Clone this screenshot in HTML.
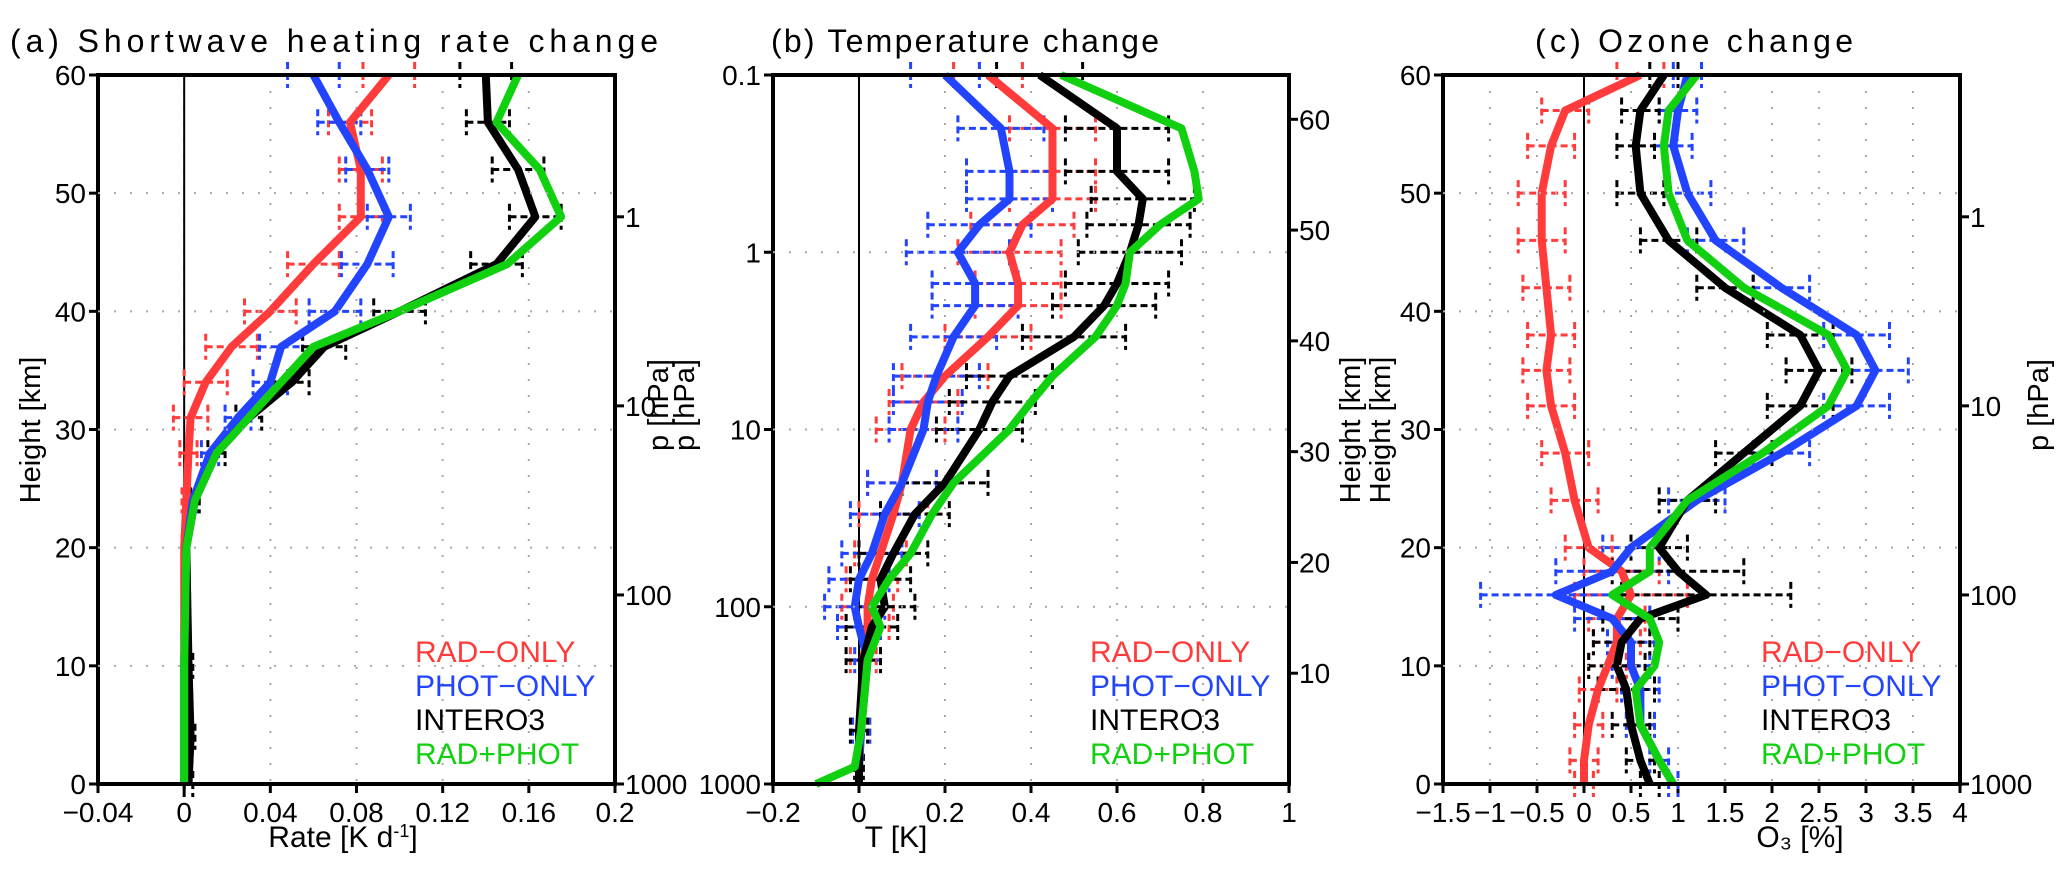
<!DOCTYPE html>
<html><head><meta charset="utf-8"><style>
body{margin:0;background:#fff;}
svg{display:block;font-family:"Liberation Sans",sans-serif;}
</style></head><body>
<svg id="fig" width="2067" height="889" viewBox="0 0 2067 889" xmlns="http://www.w3.org/2000/svg"></svg>
<script>
// ---------- Panel (a) data: height [km] vs shortwave heating rate [K/d]
const aLevels=[60,56,52,48,44,40,37,34,31,28,24,20,10,4,0];
const aRed  =[0.095,0.077,0.082,0.082,0.060,0.040,0.022,0.010,0.003,0.002,0.001,0,0,0,0];
const aBlue =[0.060,0.072,0.085,0.095,0.085,0.070,0.045,0.040,0.025,0.012,0.004,0.001,0,0,0];
const aBlack=[0.140,0.141,0.155,0.163,0.145,0.100,0.065,0.050,0.030,0.015,0.005,0.001,0.002,0.003,0.002];
const aGreen=[0.155,0.145,0.165,0.175,0.150,0.100,0.060,0.045,0.030,0.015,0.005,0.001,0,0,0];
const aErrRed  =[0.012,0.010,0.010,0.010,0.012,0.012,0.012,0.010,0.008,0.004,0.002,0.001,0,0,0];
const aErrBlue =[0.012,0.010,0.010,0.010,0.012,0.012,0.010,0.008,0.006,0.004,0.002,0.001,0,0,0];
const aErrBlack=[0.012,0.010,0.012,0.012,0.012,0.012,0.010,0.008,0.006,0.004,0.002,0.001,0.002,0.002,0.002];
const aXTicks=[-0.04,0,0.04,0.08,0.12,0.16,0.2];
const aXLabels=["\u22120.04","0","0.04","0.08","0.12","0.16","0.2"];
const kmTicks=[0,10,20,30,40,50,60];
const hpaTicks=[1,10,100,1000];

// ---------- Panel (b) data: pressure [hPa] vs temperature change [K]
const bLevels=[0.1,0.2,0.35,0.5,0.7,1,1.5,2,3,5,7,10,20,30,50,70,100,130,200,500,800,1000];
const bRed  =[0.30,0.45,0.45,0.45,0.38,0.35,0.37,0.37,0.30,0.20,0.15,0.12,0.10,0.08,0.05,0.03,0.02,0.02,0.01,0.005,0,0];
const bBlue =[0.20,0.33,0.35,0.35,0.28,0.23,0.27,0.27,0.22,0.18,0.16,0.15,0.10,0.06,0.03,0.0,-0.01,0.0,0.02,0.005,0,0];
const bBlack=[0.42,0.60,0.60,0.66,0.65,0.63,0.60,0.57,0.50,0.35,0.31,0.28,0.20,0.13,0.08,0.05,0.06,0.03,0.01,0.0,0.0,0.0];
const bGreen=[0.47,0.75,0.78,0.79,0.70,0.63,0.62,0.60,0.55,0.45,0.40,0.35,0.22,0.17,0.12,0.07,0.03,0.05,0.02,0.005,-0.01,-0.10];
const bErrRed  =[0.08,0.10,0.10,0.10,0.12,0.12,0.10,0.10,0.10,0.10,0.08,0.08,0.08,0.08,0.06,0.06,0.06,0.05,0.03,0.02,0.01,0.0];
const bErrBlue =[0.08,0.10,0.10,0.10,0.12,0.12,0.10,0.10,0.10,0.10,0.08,0.08,0.08,0.08,0.07,0.07,0.07,0.05,0.03,0.02,0.01,0.0];
const bErrBlack=[0.10,0.12,0.12,0.12,0.12,0.12,0.12,0.12,0.12,0.10,0.10,0.10,0.10,0.08,0.08,0.07,0.07,0.06,0.04,0.02,0.01,0.0];
const bXTicks=[-0.2,0,0.2,0.4,0.6,0.8,1];
const bXLabels=["\u22120.2","0","0.2","0.4","0.6","0.8","1"];
const bPTicks=[0.1,1,10,100,1000];
const bPLabels=["0.1","1","10","100","1000"];
const bKmTicks=[10,20,30,40,50,60];

// ---------- Panel (c) data: height [km] vs ozone change [%]
const cLevels=[60,57,54,50,46,42,38,35,32,28,24,20,18,16,14,12,10,8,5,2,0];
const cRed  =[0.60,-0.20,-0.35,-0.45,-0.45,-0.40,-0.35,-0.40,-0.35,-0.20,-0.10,0.05,0.40,0.50,0.35,0.35,0.25,0.15,0.05,0.0,0.0];
const cBlue =[1.10,1.00,0.95,1.10,1.40,2.10,2.90,3.10,2.90,2.10,1.20,0.50,0.30,-0.30,0.30,0.50,0.50,0.60,0.60,0.80,0.95];
const cBlack=[0.85,0.60,0.55,0.60,0.90,1.50,2.30,2.50,2.30,1.70,1.10,0.80,1.00,1.30,0.60,0.40,0.35,0.45,0.50,0.60,0.70];
const cGreen=[1.20,0.90,0.85,0.90,1.10,1.70,2.60,2.80,2.60,1.90,1.10,0.70,0.70,0.30,0.70,0.80,0.75,0.55,0.60,0.80,0.95];
const cErrRed  =[0.25,0.25,0.25,0.25,0.25,0.25,0.25,0.25,0.25,0.25,0.25,0.25,0.4,0.6,0.3,0.25,0.2,0.2,0.15,0.15,0.1];
const cErrBlue =[0.15,0.2,0.2,0.25,0.3,0.3,0.35,0.35,0.35,0.3,0.3,0.3,0.6,0.8,0.4,0.25,0.2,0.2,0.15,0.1,0.05];
const cErrBlack=[0.15,0.2,0.2,0.25,0.3,0.3,0.35,0.35,0.35,0.3,0.3,0.3,0.7,0.9,0.4,0.3,0.3,0.3,0.2,0.15,0.1];
const cXTicks=[-1.5,-1,-0.5,0,0.5,1,1.5,2,2.5,3,3.5,4];
const cXLabels=["\u22121.5","\u22121","\u22120.5","0","0.5","1","1.5","2","2.5","3","3.5","4"];

const legendNames=["RAD\u2212ONLY","PHOT\u2212ONLY","INTERO3","RAD+PHOT"];
const COL={red:"#ff3b3b",blue:"#2244ff",black:"#000000",green:"#10d010"};

const NS="http://www.w3.org/2000/svg";
const svg=document.getElementById('fig');
function mk(tag,attrs,parent,text){
  const e=document.createElementNS(NS,tag);
  for(const k in attrs)e.setAttribute(k,attrs[k]);
  if(text!==undefined)e.textContent=text;
  (parent||svg).appendChild(e);return e;
}
const TOP=75,BOT=784;
const kmToHpa=h=>1000*Math.pow(10,-h/16);
const hpaToKm=p=>16*Math.log10(1000/p);

function drawPanel(id,x0,x1,xmin,xmax,yOf,xt,xl,series,legX){
  const g=mk('g',{});
  
  
  const X=v=>x0+(v-xmin)/(xmax-xmin)*(x1-x0);
  xt.forEach((v,i)=>{
    const x=X(v);
    if(i>0&&i<xt.length-1){
      const gl=mk('line',{x1:x,x2:x,y1:TOP,y2:BOT,stroke:'#aaa','stroke-width':2,'stroke-dasharray':'2,14'},g);
      
      
    }
    mk('line',{x1:x,x2:x,y1:BOT,y2:BOT+9,stroke:'#000','stroke-width':3},g);
    const t=mk('text',{x:x,y:BOT+38,'text-anchor':'middle','font-size':28},g,xl[i]);
    
    
  });
  const z=mk('line',{x1:X(0),x2:X(0),y1:TOP,y2:BOT,stroke:'#000','stroke-width':2},g);
  
  
  series.forEach(s=>{
    if(s.err){
      s.x.forEach((v,i)=>{
        const e=s.err[i];if(!e)return;
        const y=yOf(s.lev[i]);
        const a=X(v-e),b=X(v+e);
        const eb=mk('g',{stroke:s.c,'stroke-width':3,'stroke-dasharray':'7,4',fill:'none'},g);
        
        
        mk('line',{x1:a,x2:b,y1:y,y2:y},eb);
        mk('line',{x1:a,x2:a,y1:y-13,y2:y+13},eb);
        mk('line',{x1:b,x2:b,y1:y-13,y2:y+13},eb);
      });
    }
  });
  series.forEach(s=>{
    const pts=s.x.map((v,i)=>X(v).toFixed(1)+','+yOf(s.lev[i]).toFixed(1)).join(' ');
    const pl=mk('polyline',{points:pts,fill:'none',stroke:s.c,'stroke-width':8,'stroke-linejoin':'round'},g);
    
    
  });
  const fr=mk('rect',{x:x0,y:TOP,width:x1-x0,height:BOT-TOP,fill:'none',stroke:'#000','stroke-width':4},g);
  
  
  const cols=[COL.red,COL.blue,COL.black,COL.green];
  legendNames.forEach((n,i)=>{
    const t=mk('text',{x:legX,y:662+i*34,'font-size':30,fill:cols[i]},g,n);
    
    
  });
  return {g,X};
}
function hGrid(g,x0,x1,y){
  const l=mk('line',{x1:x0,x2:x1,y1:y,y2:y,stroke:'#aaa','stroke-width':2,'stroke-dasharray':'2,14'},g);
  
  
}
function leftTick(g,x,y,lab){
  mk('line',{x1:x-9,x2:x,y1:y,y2:y,stroke:'#000','stroke-width':3},g);
  const t=mk('text',{x:x-12,y:y+10,'text-anchor':'end','font-size':28},g,lab);
  
  
}
function rightTick(g,x,y,lab){
  mk('line',{x1:x,x2:x+9,y1:y,y2:y,stroke:'#000','stroke-width':3},g);
  const t=mk('text',{x:x+10,y:y+10,'text-anchor':'start','font-size':28},g,lab);
  
  
}
function vlabel(x,y,txt,name){
  const t=mk('text',{x:x,y:y,'text-anchor':'middle','font-size':29,transform:'rotate(-90 '+x+' '+y+')'},svg,txt);
  
  
}
function title(x,y,txt,name,len){
  const t=mk('text',{x:x,y:y,'font-size':32,textLength:len,lengthAdjust:'spacing'},svg,txt);
  
  
}
const yKm=h=>BOT-h/60*(BOT-TOP);
const yP=p=>TOP+(Math.log10(p)+1)/4*(BOT-TOP);

{
  const x0=98,x1=615;
  const P=drawPanel('a',x0,x1,-0.04,0.2,yKm,aXTicks,aXLabels,[
    {name:'rad-only',c:COL.red,lev:aLevels,x:aRed,err:aErrRed},
    {name:'phot-only',c:COL.blue,lev:aLevels,x:aBlue,err:aErrBlue},
    {name:'intero3',c:COL.black,lev:aLevels,x:aBlack,err:aErrBlack},
    {name:'rad-phot',c:COL.green,lev:aLevels,x:aGreen}],415);
  kmTicks.forEach(h=>{if(h>0&&h<60)hGrid(P.g,x0,x1,yKm(h));leftTick(P.g,x0,yKm(h),String(h));});
  hpaTicks.forEach(p=>rightTick(P.g,x1,yKm(hpaToKm(p)),String(p)));
}
{
  const x0=773,x1=1289;
  const P=drawPanel('b',x0,x1,-0.2,1,yP,bXTicks,bXLabels,[
    {name:'rad-only',c:COL.red,lev:bLevels,x:bRed,err:bErrRed},
    {name:'phot-only',c:COL.blue,lev:bLevels,x:bBlue,err:bErrBlue},
    {name:'intero3',c:COL.black,lev:bLevels,x:bBlack,err:bErrBlack},
    {name:'rad-phot',c:COL.green,lev:bLevels,x:bGreen}],1090);
  bPTicks.forEach((p,i)=>{if(i>0&&i<bPTicks.length-1)hGrid(P.g,x0,x1,yP(p));leftTick(P.g,x0,yP(p),bPLabels[i]);});
  bKmTicks.forEach(h=>rightTick(P.g,x1,yP(kmToHpa(h)),String(h)));
}
{
  const x0=1443,x1=1960;
  const P=drawPanel('c',x0,x1,-1.5,4,yKm,cXTicks,cXLabels,[
    {name:'rad-only',c:COL.red,lev:cLevels,x:cRed,err:cErrRed},
    {name:'phot-only',c:COL.blue,lev:cLevels,x:cBlue,err:cErrBlue},
    {name:'intero3',c:COL.black,lev:cLevels,x:cBlack,err:cErrBlack},
    {name:'rad-phot',c:COL.green,lev:cLevels,x:cGreen}],1761);
  kmTicks.forEach(h=>{if(h>0&&h<60)hGrid(P.g,x0,x1,yKm(h));leftTick(P.g,x0,yKm(h),String(h));});
  hpaTicks.forEach(p=>rightTick(P.g,x1,yKm(hpaToKm(p)),String(p)));
}
title(10,52,"(a)  Shortwave heating rate change","title-a",648);
title(771,52,"(b)   Temperature change","title-b",388);
title(1535,52,"(c)  Ozone change","title-c",318);
vlabel(40,430,"Height [km]","y-axis-title-a");
vlabel(668,405,"p [hPa]","y2-axis-title-a");
vlabel(694,405,"p [hPa]","y-axis-title-b");
vlabel(1360,430,"Height [km]","y2-axis-title-b");
vlabel(1390,430,"Height [km]","y-axis-title-c");
vlabel(2048,405,"p [hPa]","y2-axis-title-c");
{
  const t1=mk('text',{x:343,y:847,'text-anchor':'middle','font-size':30},svg);
  
  
  t1.innerHTML='Rate [K d<tspan font-size="18" dy="-10">-1</tspan><tspan dy="10">]</tspan>';
  const t2=mk('text',{x:896,y:847,'text-anchor':'middle','font-size':30},svg,"T  [K]");
  
  
  const t3=mk('text',{x:1800,y:847,'text-anchor':'middle','font-size':30},svg,"O\u2083  [%]");
  
  
}
</script>
</body></html>
